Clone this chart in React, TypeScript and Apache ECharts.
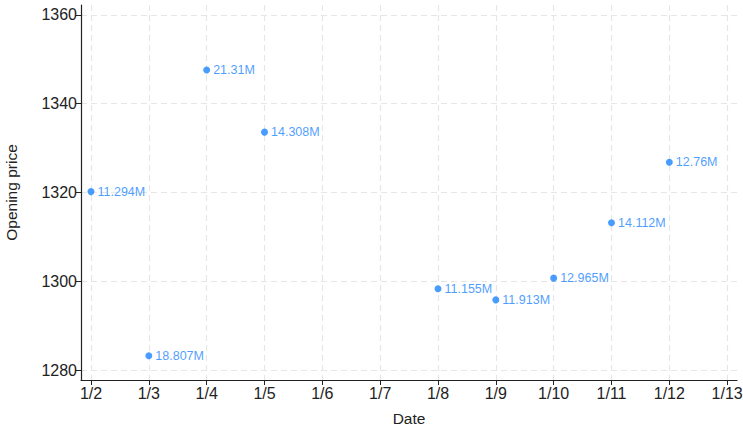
import React, { useEffect, useRef } from "react";
import * as echarts from "echarts";

const dates = [2, 3, 4, 5, 8, 9, 10, 11, 12];
const openPrices = [1320.2, 1283.2, 1347.6, 1333.6, 1298.3, 1295.8, 1300.7, 1313.2, 1326.8];
const volumes = ["11.294M", "18.807M", "21.31M", "14.308M", "11.155M", "11.913M", "12.965M", "14.112M", "12.76M"];
const xTicks = [2, 3, 4, 5, 6, 7, 8, 9, 10, 11, 12, 13];
const yTicks = [1280, 1300, 1320, 1340, 1360];

export default function App() {
  const ref = useRef<HTMLDivElement>(null);
  useEffect(() => {
    if (!ref.current) return;
    const chart = echarts.init(ref.current, null, { renderer: "svg" });
    const font = "Liberation Sans, Arial, sans-serif";
    chart.setOption({
      animation: false,
      grid: { left: 81, right: 6, top: 5, bottom: 45, containLabel: false, outerBoundsMode: "none" },
      xAxis: {
        type: "value",
        min: 1.827,
        max: 13.17,
        name: "Date",
        nameLocation: "middle",
        nameGap: 30,
        nameTextStyle: { fontSize: 15.5, color: "#222", fontFamily: font },
        axisLine: { show: true, lineStyle: { color: "#222", width: 1.2 } },
        axisTick: { show: true, length: 5, customValues: xTicks, lineStyle: { color: "#222" } },
        axisLabel: {
          customValues: xTicks,
          formatter: (v: number) => "1/" + Math.round(v),
          fontSize: 16,
          color: "#222",
          fontFamily: font,
          margin: 5,
        },
        splitLine: { show: true, lineStyle: { color: "#e6e6e6", type: [6, 4], width: 1.2 } },
      },
      yAxis: {
        type: "value",
        min: 1277.75,
        max: 1362.25,
        name: "Opening price",
        nameLocation: "middle",
        nameGap: 62,
        nameTextStyle: { fontSize: 15.5, color: "#222", fontFamily: font },
        axisLine: { show: true, lineStyle: { color: "#222", width: 1.2 } },
        axisTick: { show: true, length: 5, customValues: yTicks, lineStyle: { color: "#222" } },
        axisLabel: {
          customValues: yTicks,
          formatter: (v: number) => String(Math.round(v)),
          fontSize: 16,
          color: "#222",
          fontFamily: font,
          margin: 4,
        },
        splitLine: { show: true, lineStyle: { color: "#e6e6e6", type: [6, 4], width: 1.2 } },
      },
      series: [
        {
          type: "scatter",
          symbol: "circle",
          symbolSize: 7,
          itemStyle: { color: "#1a85ff" },
          data: dates.map((d, i) => [d, openPrices[i], volumes[i]]),
          label: {
            show: true,
            position: "right",
            distance: 3,
            formatter: (p: any) => p.data[2],
            fontSize: 12.5,
            color: "#1a85ff",
            fontFamily: font,
          },
        },
      ],
    });
    return () => chart.dispose();
  }, []);
  return <div ref={ref} style={{ width: 743, height: 425, position: "absolute", left: 0, top: 0 }} />;
}
